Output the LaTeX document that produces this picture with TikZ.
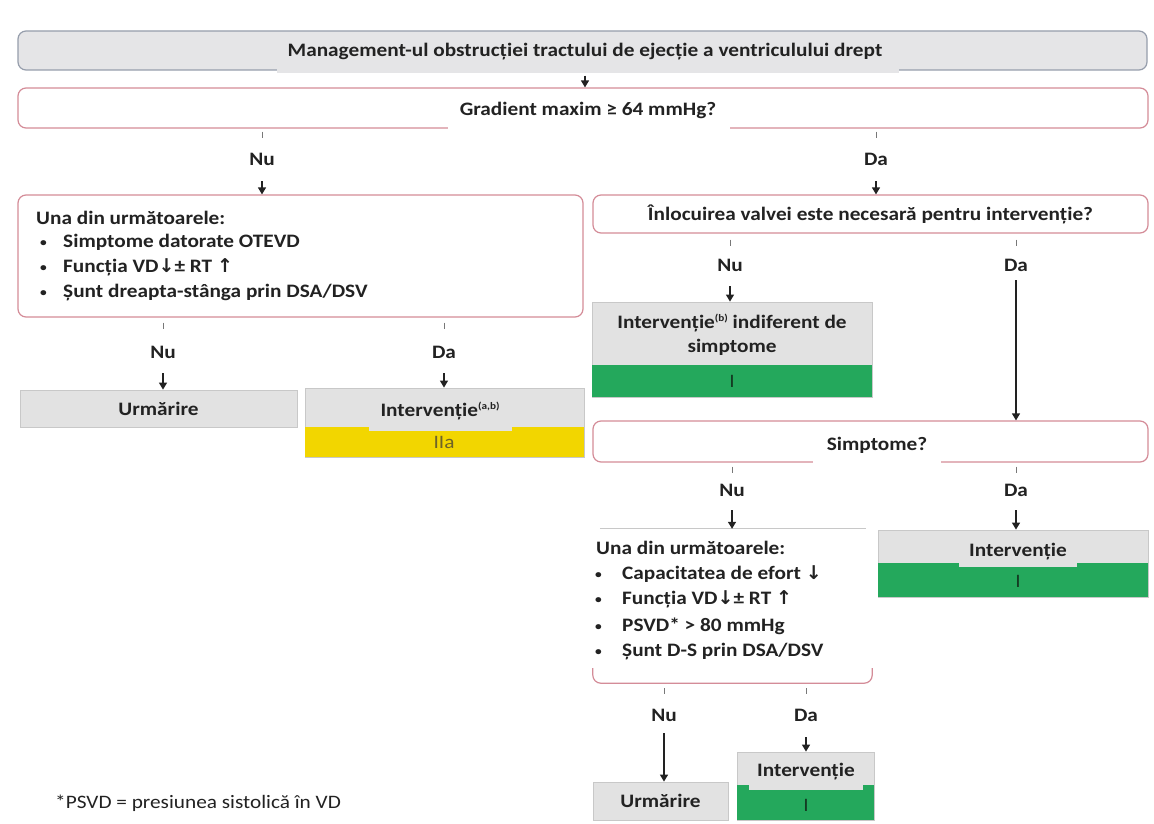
\documentclass[tikz,border=0pt]{standalone}
\usepackage{fontspec}
\setmainfont{Carlito}[FakeStretch=1.12]
\newfontfamily\symfont{DejaVu Sans}
\usetikzlibrary{arrows.meta,calc}

\definecolor{ink}{RGB}{34,34,34}
\definecolor{mgfill}{RGB}{229,229,231}
\definecolor{mgdraw}{RGB}{150,158,172}
\definecolor{pinkline}{RGB}{212,140,152}
\definecolor{gyfill}{RGB}{226,226,226}
\definecolor{gydraw}{RGB}{200,200,200}
\definecolor{grn}{RGB}{36,168,92}
\definecolor{yel}{RGB}{242,214,0}
\definecolor{olive}{RGB}{110,100,40}
\definecolor{darkgrn}{RGB}{20,60,35}
\definecolor{stubgray}{RGB}{120,120,120}

\newcommand{\upar}{{\symfont ↑}}
\newcommand{\dnar}{{\symfont ↓}}
\newcommand{\supsc}[1]{\raisebox{7pt}{\fontsize{10}{10}\selectfont #1}}
\newcommand{\bul}[1]{\makebox[#1][l]{\raisebox{1pt}{\fontsize{12}{12}\selectfont •}}}

\begin{document}
\begin{tikzpicture}[x=1pt,y=-1pt,
  font=\bfseries\fontsize{19}{24}\selectfont,
  every node/.style={text=ink},
  mgbox/.style={draw=mgdraw,fill=mgfill,line width=1.2pt,rounded corners=8pt,inner sep=0pt},
  pinkbox/.style={draw=pinkline,fill=white,line width=1.2pt,rounded corners=8pt,inner sep=0pt},
  graybox/.style={draw=gydraw,fill=gyfill,line width=0.8pt,inner sep=0pt},
  txt/.style={inner sep=0pt},
  lbl/.style={inner sep=0pt,text height=12pt,text depth=0pt},
  line/.style={inner sep=0pt,anchor=west,text height=12pt,text depth=4pt},
  grade/.style={inner sep=0pt,font=\mdseries\fontsize{19}{20}\selectfont},
  arr/.style={draw=ink,line width=1.3pt,-{Triangle[width=8pt,length=7pt]}},
  stub/.style={draw=stubgray,line width=1pt},
]
\fill[white] (0,0) rectangle (1154,824);
\useasboundingbox (0,0) rectangle (1154,824);

% ---- title and first question
\node[mgbox,minimum width=1129pt,minimum height=39pt] (mgmt) at (582.5,50.5) {};
\node[txt] (mgmtT) at (585,52) {Management-ul obstrucției tractului de ejecție a ventriculului drept};
\fill[mgfill] ($(mgmtT.west |- mgmt.south)+(-10,-3)$) rectangle ($(mgmtT.east |- mgmt.south)+(16,2)$);

\node[pinkbox,minimum width=1130pt,minimum height=40pt] (grad) at (583,108) {};
\node[txt] (gradT) at (588,110) {Gradient maxim ≥ 64 mmHg?};
\fill[white] ($(gradT.west |- grad.south)+(-12,-3)$) rectangle ($(gradT.east |- grad.south)+(14,2)$);

\node[lbl] (n1) at (262,160) {Nu};
\node[lbl] (d1) at (876,160) {Da};

% ---- left branch
\node[pinkbox,minimum width=565pt,minimum height=122pt] (q1) at (300.5,256) {};
\node[line] (q1a) at (36,220) {Una din următoarele:};
\node[line] (q1b) at (40,243) {\bul{23pt}Simptome datorate OTEVD};
\node[line] (q1c) at (40,268) {\bul{23pt}Funcția VD\dnar± RT \upar};
\node[line] (q1d) at (40,293) {\bul{23pt}Șunt dreapta-stânga prin DSA/DSV};

\node[lbl] (n2) at (163,352) {Nu};
\node[lbl] (d2) at (444,352) {Da};

\node[graybox,minimum width=277pt,minimum height=37pt] (urm1) at (158.5,408.5) {Urmărire};

\node[graybox,minimum width=279pt,minimum height=69pt] (int1) at (444.5,422.5) {};
\fill[yel] (305,427) rectangle (584,457);
\node[txt,fill=gyfill,inner xsep=12pt,minimum height=40pt] (int1T) at (440,411) {Intervenție\supsc{(a,b)}};
\node[grade,text=olive] (int1G) at (444,442) {IIa};

% ---- right branch
\node[pinkbox,minimum width=555pt,minimum height=38pt] (q2) at (870.5,214) {Înlocuirea valvei este necesară pentru intervenție?};

\node[lbl] (n3) at (730,265) {Nu};
\node[lbl] (d3) at (1016,265) {Da};

\node[graybox,minimum width=280pt,minimum height=95pt] (int2) at (732,349.5) {};
\fill[grn] (592,365) rectangle (872,397);
\node[txt,align=center] (int2T) at (732,335) {Intervenție\supsc{(b)} indiferent de\\simptome};
\node[grade,text=darkgrn] (int2G) at (732,381) {I};

\node[pinkbox,minimum width=555pt,minimum height=41pt] (symp) at (870.5,441.5) {};
\node[txt] (sympT) at (877,445) {Simptome?};
\fill[white] ($(sympT.west |- symp.south)+(-14,-3)$) rectangle ($(sympT.east |- symp.south)+(14,2)$);

\node[lbl] (n4) at (732,490) {Nu};
\node[lbl] (d4) at (1016,490) {Da};

% second list: open box with a rule on top and a bracket below
\node[inner sep=0pt,minimum width=279pt,minimum height=154pt] (q3) at (732.5,606) {};
\draw[draw=gydraw,line width=1pt] ([xshift=7pt]q3.north west) -- ([xshift=-6pt]q3.north east);
\draw[draw=pinkline,line width=1.2pt,rounded corners=8pt]
  ([yshift=15pt]q3.south west) -- (q3.south west) -- (q3.south east) -- ([yshift=15pt]q3.south east);
\node[line] (q3a) at (596,550) {Una din următoarele:};
\node[line] (q3b) at (595,575) {\bul{27pt}Capacitatea de efort \dnar};
\node[line] (q3c) at (595,600) {\bul{27pt}Funcția VD\dnar± RT \upar};
\node[line] (q3d) at (595,627) {\bul{27pt}PSVD* > 80 mmHg};
\node[line] (q3e) at (595,652) {\bul{27pt}Șunt D-S prin DSA/DSV};

\node[graybox,minimum width=270pt,minimum height=67pt] (int3) at (1013,563.5) {};
\fill[grn] (878,563) rectangle (1148,597);
\node[txt,fill=gyfill,inner xsep=10pt,minimum height=30pt] (int3T) at (1018,552) {Intervenție};
\node[grade,text=darkgrn] (int3G) at (1018,581) {I};

\node[lbl] (n5) at (664,715) {Nu};
\node[lbl] (d5) at (806,715) {Da};

\node[graybox,minimum width=135pt,minimum height=38pt] (urm2) at (660.5,801) {Urmărire};

\node[graybox,minimum width=137pt,minimum height=68pt] (int4) at (805.5,786) {};
\fill[grn] (737,785) rectangle (874,820);
\node[txt,fill=gyfill,inner xsep=8pt,minimum height=36pt] (int4T) at (806,772) {Intervenție};
\node[grade,text=darkgrn] (int4G) at (806,805) {I};

% footnote
\node[txt,anchor=west,font=\mdseries\fontsize{19}{20}\selectfont] (foot) at (55,803) {*PSVD = presiunea sistolică în VD};

% ---- connectors
\draw[arr,shorten <=5pt] (mgmt.south -| mgmtT) -- (grad.north -| mgmtT);

\draw[stub] (grad.south -| n1) ++(0,3) -- ++(0,6);
\draw[stub] (grad.south -| d1) ++(0,3) -- ++(0,6);
\draw[arr,shorten <=15pt] (n1.south) -- (q1.north -| n1);
\draw[arr,shorten <=15pt] (d1.south) -- (q2.north -| d1);

\draw[stub] (q1.south -| n2) ++(0,5) -- ++(0,6);
\draw[stub] (q1.south -| d2) ++(0,5) -- ++(0,6);
\draw[arr,shorten <=15pt] (n2.south) -- (urm1.north -| n2);
\draw[arr,shorten <=15pt] (d2.south) -- (int1.north -| d2);

\draw[stub] (q2.south -| n3) ++(0,6) -- ++(0,6);
\draw[stub] (q2.south -| d3) ++(0,6) -- ++(0,6);
\draw[arr,shorten <=15pt] (n3.south) -- (int2.north -| n3);
\draw[arr,shorten <=9pt] (d3.south) -- (symp.north -| d3);

\draw[stub] (symp.south -| n4) ++(0,4) -- ++(0,6);
\draw[stub] (symp.south -| d4) ++(0,4) -- ++(0,6);
\draw[arr,shorten <=14pt] (n4.south) -- (q3.north -| n4);
\draw[arr,shorten <=14pt] (d4.south) -- (int3.north -| d4);

\draw[stub] (q3.south -| n5) ++(0,5) -- ++(0,6);
\draw[stub] (q3.south -| d5) ++(0,5) -- ++(0,6);
\draw[arr,shorten <=12pt] (n5.south) -- (urm2.north -| n5);
\draw[arr,shorten <=16pt] (d5.south) -- (int4.north -| d5);
\end{tikzpicture}
\end{document}
